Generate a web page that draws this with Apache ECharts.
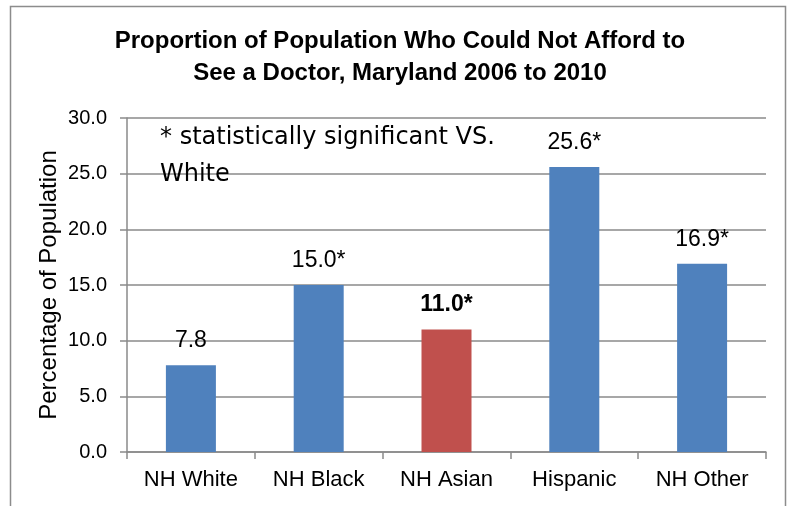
<!DOCTYPE html>
<html>
<head>
<meta charset="utf-8">
<script src="https://cdn.jsdelivr.net/npm/echarts@6/dist/echarts.min.js"></script>
<style>
html,body{margin:0;padding:0;background:#fff;}
#chart{width:789px;height:506px;}
</style>
</head>
<body>
<div id="chart"></div>
<script>
// ---- data ----
const categories = ['NH White', 'NH Black', 'NH Asian', 'Hispanic', 'NH Other'];
const values = [7.8, 15.0, 11.0, 25.6, 16.9];
const significant = [false, true, true, true, true];
const highlighted = ['NH Asian'];
const yTicks = [0, 5, 10, 15, 20, 25, 30];

const titleText = 'Proportion of Population Who Could Not Afford to\nSee a Doctor, Maryland 2006 to 2010';
const noteText = '* statistically significant VS.\nWhite';

// ---- chart ----
const chart = echarts.init(document.getElementById('chart'));
const BLUE = '#4F81BD', RED = '#C0504D', GRID = '#8a8a8a';

const seriesData = values.map(function (v, i) {
  const hl = highlighted.indexOf(categories[i]) >= 0;
  return {
    value: v,
    itemStyle: { color: hl ? RED : BLUE },
    label: { fontWeight: hl ? 'bold' : 'normal' }
  };
});

chart.setOption({
  backgroundColor: '#fff',
  animation: false,
  title: {
    text: titleText,
    left: 395,
    top: 20,
    textAlign: 'center',
    textStyle: { fontFamily: 'Liberation Sans', fontWeight: 'bold', fontSize: 24, lineHeight: 32, color: '#000' }
  },
  grid: { left: 127, right: 23, top: 118, bottom: 54, containLabel: false },
  xAxis: {
    type: 'category',
    data: categories,
    axisLine: { lineStyle: { color: GRID, width: 1.5 } },
    axisTick: { show: true, length: 7, alignWithLabel: false, lineStyle: { color: GRID, width: 1.5 } },
    axisLabel: { fontFamily: 'Liberation Sans', fontSize: 22, color: '#000', margin: 17 }
  },
  yAxis: {
    type: 'value',
    min: yTicks[0],
    max: yTicks[yTicks.length - 1],
    interval: yTicks[1] - yTicks[0],
    name: 'Percentage of Population',
    nameLocation: 'middle',
    nameRotate: 90,
    nameGap: 66,
    nameMoveOverlap: false,
    nameTextStyle: { fontFamily: 'Liberation Sans', fontSize: 24, color: '#000' },
    axisLine: { show: true, lineStyle: { color: GRID, width: 1.5 } },
    axisTick: { show: true, length: 7, lineStyle: { color: GRID, width: 1.5 } },
    splitLine: { lineStyle: { color: GRID, width: 1.5 } },
    axisLabel: {
      fontFamily: 'Liberation Sans', fontSize: 20, color: '#000', margin: 20,
      formatter: function (v) { return v.toFixed(1); }
    }
  },
  series: [{
    type: 'bar',
    data: seriesData,
    barWidth: 50,
    label: {
      show: true,
      position: 'top',
      distance: 13,
      fontFamily: 'Liberation Sans',
      fontSize: 23,
      color: '#000',
      formatter: function (p) {
        return values[p.dataIndex].toFixed(1) + (significant[p.dataIndex] ? '*' : '');
      }
    }
  }],
  graphic: [
    {
      type: 'rect',
      shape: { x: 10.5, y: 6.5, width: 775, height: 520 },
      style: { fill: 'none', stroke: '#8c8c8c', lineWidth: 1.5 },
      silent: true, z: -1
    },
    {
      type: 'text',
      left: 160,
      top: 119,
      style: {
        text: noteText,
        font: '24px "DejaVu Sans", sans-serif',
        lineHeight: 37,
        fill: '#000'
      },
      z: 10
    }
  ]
});
</script>
</body>
</html>
